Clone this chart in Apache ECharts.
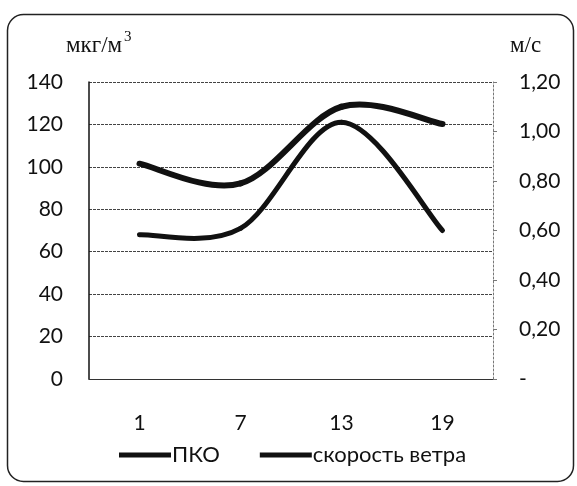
<!DOCTYPE html>
<html><head><meta charset="utf-8">
<script src="https://cdn.jsdelivr.net/npm/echarts@6/dist/echarts.min.js"></script>
<style>html,body{margin:0;padding:0;background:#fff}#c{width:577px;height:486px}</style>
</head><body><div id="c"></div>
<script>
const categories = ['1', '7', '13', '19'];
const pkoValues = [68, 71, 121, 70];
const windValues = [0.87, 0.79, 1.10, 1.03];
const leftTicks = [0, 140, 20];
const rightTicks = [0, 1.2, 0.2];

// Excel-like smoothed line (Catmull-Rom Bezier) drawn through the axes' own scales
function smoothRenderer(vals, width) {
  return function (params, api) {
    const i = params.dataIndex;
    if (i >= vals.length - 1) return null;
    const P = j => api.coord([Math.max(0, Math.min(vals.length - 1, j)), vals[Math.max(0, Math.min(vals.length - 1, j))]]);
    const p0 = P(i - 1), p1 = P(i), p2 = P(i + 1), p3 = P(i + 2);
    return {
      type: 'bezierCurve',
      shape: {
        x1: p1[0], y1: p1[1], x2: p2[0], y2: p2[1],
        cpx1: p1[0] + (p2[0] - p0[0]) / 6, cpy1: p1[1] + (p2[1] - p0[1]) / 6,
        cpx2: p2[0] - (p3[0] - p1[0]) / 6, cpy2: p2[1] - (p3[1] - p1[1]) / 6
      },
      style: {fill: 'none', stroke: '#111', lineWidth: width, lineCap: 'round'}
    };
  };
}

const chart = echarts.init(document.getElementById('c'));
const txt = {fontFamily: 'Lato', fontSize: 21, color: '#111'};
chart.setOption({
  animation: false,
  backgroundColor: '#fff',
  graphic: [{
    type: 'rect', left: 5, top: 12,
    shape: {width: 566, height: 467, r: 16},
    style: {fill: 'none', stroke: '#222', lineWidth: 1.5}
  }, {
    type: 'text', left: 66, top: 34,
    style: {text: 'мкг/м', font: '23px "Liberation Serif"', fill: '#111'}
  }, {
    type: 'text', left: 124, top: 30,
    style: {text: '3', font: '15px "Liberation Serif"', fill: '#111'}
  }, {
    type: 'text', left: 510, top: 34,
    style: {text: 'м/с', font: '23px "Liberation Serif"', fill: '#111'}
  }],
  grid: {left: 89, right: 84, top: 82, bottom: 107},
  legend: {
    bottom: 15, left: 114, itemGap: 40, itemWidth: 52, itemHeight: 5,
    textStyle: {fontFamily: 'Lato', fontSize: 22, color: '#111', padding: [0, 0, 0, -4]},
    data: [{name: 'ПКО', icon: 'rect'}, {name: 'скорость ветра', icon: 'rect'}]
  },
  xAxis: {
    type: 'category', data: categories, boundaryGap: true,
    axisLine: {lineStyle: {color: '#333', width: 1}},
    axisTick: {show: false},
    axisLabel: Object.assign({margin: 34}, txt)
  },
  yAxis: [{
    type: 'value', min: leftTicks[0], max: leftTicks[1], interval: leftTicks[2],
    axisLine: {show: true, lineStyle: {color: '#111', width: 1.5}},
    axisTick: {show: false},
    axisLabel: Object.assign({margin: 26}, txt),
    splitLine: {lineStyle: {color: '#444', width: 1, type: [3, 1]}}
  }, {
    type: 'value', min: rightTicks[0], max: rightTicks[1], interval: rightTicks[2],
    position: 'right',
    axisLine: {show: true, lineStyle: {color: '#777', width: 1, type: [2, 2]}},
    axisTick: {show: true, length: 4, lineStyle: {color: '#777'}},
    axisLabel: Object.assign({margin: 26, formatter: v => v === 0 ? '-' : v.toFixed(2).replace('.', ',')}, txt),
    splitLine: {show: false}
  }],
  series: [{
    name: 'ПКО', type: 'custom', yAxisIndex: 0,
    data: pkoValues.map((v, i) => [i, v]), encode: {x: 0, y: 1},
    renderItem: smoothRenderer(pkoValues, 5),
    itemStyle: {color: '#111'}
  }, {
    name: 'скорость ветра', type: 'custom', yAxisIndex: 1,
    data: windValues.map((v, i) => [i, v]), encode: {x: 0, y: 1},
    renderItem: smoothRenderer(windValues, 6),
    itemStyle: {color: '#111'}
  }]
});
</script></body></html>
